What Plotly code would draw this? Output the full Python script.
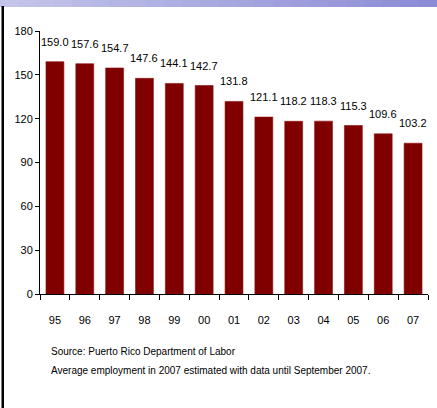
import plotly.graph_objects as go

# Employment by year (thousands)
years = ["95", "96", "97", "98", "99", "00", "01", "02", "03", "04", "05", "06", "07"]
employment = [159.0, 157.6, 154.7, 147.6, 144.1, 142.7, 131.8, 121.1, 118.2, 118.3, 115.3, 109.6, 103.2]
y_ticks = [0, 30, 60, 90, 120, 150, 180]

source_note = "Source: Puerto Rico Department of Labor"
estimate_note = "Average employment in 2007 estimated with data until September 2007."

W, H = 437, 408
ML, MR, MT, MB = 40, 9, 31, 114
PW, PH = W - ML - MR, H - MT - MB

FONT = "Liberation Sans Narrow, Arial Narrow, Liberation Sans, Arial, sans-serif"


def px(x):
    return (x - ML) / PW


def py(y):
    return (H - MB - y) / PH


fig = go.Figure(
    go.Bar(
        x=years,
        y=employment,
        marker=dict(color="#800000", line=dict(color="#8a1010", width=0.6)),
        hoverinfo="x+y",
    )
)

# value labels above each bar (x given as category position)
for i, v in enumerate(employment):
    fig.add_annotation(
        x=i, y=v, xref="x", yref="y", text=f"{v:.1f}", showarrow=False,
        yanchor="middle", yshift=20,
        font=dict(family=FONT, size=11, color="#000000"),
    )

# footnotes under the axis
fig.add_annotation(
    x=px(49), y=py(351), xref="paper", yref="paper", text=source_note,
    showarrow=False, xanchor="left", yanchor="middle",
    font=dict(family=FONT, size=10, color="#000000"),
)
fig.add_annotation(
    x=px(49), y=py(370), xref="paper", yref="paper", text=estimate_note,
    showarrow=False, xanchor="left", yanchor="middle",
    font=dict(family=FONT, size=10, color="#000000"),
)

shapes = []
# lavender header band, shaded left to right
n = 24
c0 = (196, 196, 234)
c1 = (140, 140, 214)
for i in range(n):
    t = i / (n - 1)
    c = tuple(round(a + (b - a) * t) for a, b in zip(c0, c1))
    shapes.append(dict(
        type="rect", xref="paper", yref="paper",
        x0=px(W * i / n), x1=px(W * (i + 1) / n + 1), y0=py(7), y1=py(0),
        fillcolor=f"rgb{c}", line=dict(width=0), layer="below",
    ))
# dark frame line down the left side
shapes.append(dict(
    type="rect", xref="paper", yref="paper",
    x0=px(1.5), x1=px(4), y0=py(H), y1=py(6),
    fillcolor="#000000", line=dict(width=0),
))

fig.update_layout(
    width=W, height=H,
    margin=dict(l=ML, r=MR, t=MT, b=MB, pad=0),
    paper_bgcolor="#ffffff", plot_bgcolor="#ffffff",
    bargap=0.4,
    showlegend=False,
    shapes=shapes,
    font=dict(family=FONT, size=11, color="#000000"),
    xaxis=dict(
        type="category", range=[-0.5, len(years) - 0.5], tickangle=0,
        showline=True, linecolor="#000000", linewidth=1,
        ticks="outside", tickson="boundaries", ticklen=5, tickcolor="#000000",
        ticklabelstandoff=16, showgrid=False, zeroline=False,
        tickfont=dict(family=FONT, size=11, color="#000000"),
    ),
    yaxis=dict(
        range=[0, 180], tickvals=y_ticks, showline=True, linecolor="#000000",
        linewidth=1, ticks="outside", ticklen=4, tickcolor="#000000",
        showgrid=False, zeroline=False,
        tickfont=dict(family=FONT, size=11, color="#000000"),
    ),
)

fig.write_html("out.html")
